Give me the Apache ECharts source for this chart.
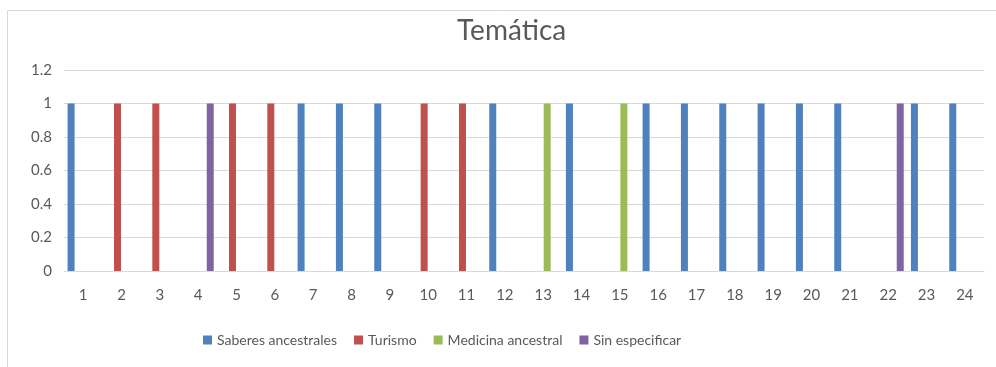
<!DOCTYPE html>
<html>
<head>
<meta charset="utf-8">
<script src="https://cdn.jsdelivr.net/npm/echarts@6/dist/echarts.min.js"></script>
<style>
  html, body { margin: 0; padding: 0; background: #ffffff; }
  #chart { width: 996px; height: 367px; }
</style>
</head>
<body>
<div id="chart"></div>
<script>
// Categories 1..24 and one value per theme
const categories = ['1','2','3','4','5','6','7','8','9','10','11','12','13','14','15','16','17','18','19','20','21','22','23','24'];
const saberes   = [1,null,null,null,null,null,1,1,1,null,null,1,null,1,null,1,1,1,1,1,1,null,1,1];
const turismo   = [null,1,1,null,1,1,null,null,null,1,1,null,null,null,null,null,null,null,null,null,null,null,null,null];
const medicina  = [null,null,null,null,null,null,null,null,null,null,null,null,1,null,1,null,null,null,null,null,null,null,null,null];
const sinEspec  = [null,null,null,1,null,null,null,null,null,null,null,null,null,null,null,null,null,null,null,null,null,1,null,null];
const seriesNames = ['Saberes ancestrales', 'Turismo', 'Medicina ancestral', 'Sin especificar'];
const yTicks = [0, 0.2, 0.4, 0.6, 0.8, 1, 1.2];

const colors = ['#4F81BD', '#C0504D', '#9BBB59', '#8064A2'];
const font = 'Lato, "Open Sans", sans-serif';
const textColor = '#595959';

const chart = echarts.init(document.getElementById('chart'), null, { renderer: 'canvas' });

function barSeries(name, data, color) {
  return {
    name: name,
    type: 'bar',
    data: data,
    barWidth: 7,
    barGap: '15%',
    itemStyle: { color: color },
    emphasis: { disabled: true }
  };
}

chart.setOption({
  animation: false,
  color: colors,
  title: {
    text: 'Temática',
    left: 452,
    top: 12,
    textStyle: { fontFamily: font, fontSize: 28, fontWeight: 'normal', color: textColor }
  },
  legend: {
    data: seriesNames,
    left: 198,
    top: 328,
    itemWidth: 9,
    itemHeight: 9,
    itemGap: 17,
    icon: 'rect',
    textStyle: { fontFamily: font, fontSize: 14, color: textColor }
  },
  grid: { left: 64, right: 12, top: 70, bottom: 96, containLabel: false },
  xAxis: {
    type: 'category',
    data: categories,
    axisLine: { show: true, lineStyle: { color: '#D9D9D9' } },
    axisTick: { show: false },
    axisLabel: { fontFamily: font, fontSize: 15, color: textColor, margin: 17, interval: 0 }
  },
  yAxis: {
    type: 'value',
    min: yTicks[0],
    max: yTicks[yTicks.length - 1],
    interval: 0.2,
    axisLine: { show: false },
    axisTick: { show: false },
    splitLine: { lineStyle: { color: '#D9D9D9' } },
    axisLabel: { fontFamily: font, fontSize: 15, color: textColor, margin: 12,
      formatter: function (v) { return String(Math.round(v * 10) / 10); } }
  },
  graphic: [{
    type: 'rect',
    shape: { x: 7.5, y: 10.5, width: 1000, height: 400 },
    style: { fill: 'none', stroke: '#D9D9D9', lineWidth: 1 },
    silent: true
  }],
  series: [
    barSeries(seriesNames[0], saberes, colors[0]),
    barSeries(seriesNames[1], turismo, colors[1]),
    barSeries(seriesNames[2], medicina, colors[2]),
    barSeries(seriesNames[3], sinEspec, colors[3])
  ]
});
</script>
</body>
</html>
